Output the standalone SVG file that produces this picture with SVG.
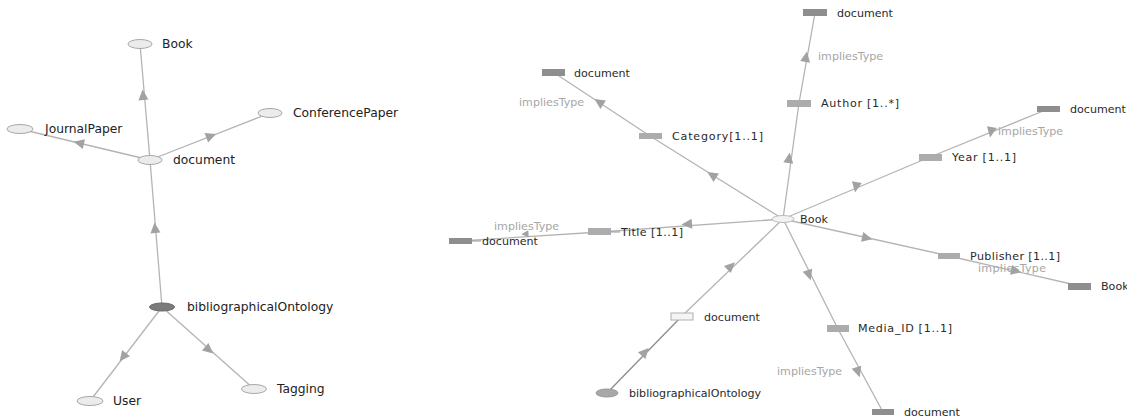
<svg xmlns="http://www.w3.org/2000/svg" xmlns:xlink="http://www.w3.org/1999/xlink" width="1127" height="419" viewBox="0 0 1127 419">
<style>
.e{stroke:#b4b4b4;stroke-width:1.3;fill:none}
.ed{stroke:#8c8c8c;stroke-width:1.3;fill:none}
.a{fill:#a2a2a2}
.ov{fill:#ececec;stroke:#a8a8a8;stroke-width:1}
.ovd{fill:#7a7a7a;stroke:#6a6a6a;stroke-width:1}
.ovm{fill:#a8a8a8;stroke:#999;stroke-width:1}
.rd{fill:#8e8e8e}
.rm{fill:#acacac}
.rw{fill:#f4f4f4;stroke:#b0b0b0;stroke-width:1}
.tl{font-family:"DejaVu Sans",sans-serif;font-size:12.3px;fill:#222}
.tr{font-family:"DejaVu Sans",sans-serif;font-size:11.1px;fill:#2a2a2a}
.ti{font-family:"DejaVu Sans",sans-serif;font-size:11.1px;fill:#a6a6a6}
</style>
<defs>
<path id="ah" d="M5.5,0 L-5,-5 L-5,5 Z"/>
</defs>
<rect width="1127" height="419" fill="#ffffff"/>
<g id="connectors">
<line class="e" x1="150" y1="160" x2="140" y2="44"/>
<line class="e" x1="150" y1="160" x2="20" y2="129"/>
<line class="e" x1="150" y1="160" x2="270" y2="113"/>
<line class="e" x1="162" y1="307" x2="150" y2="160"/>
<line class="e" x1="162" y1="307" x2="90" y2="401"/>
<line class="e" x1="162" y1="307" x2="254" y2="389"/>
<use href="#ah" class="a" transform="translate(143,95) rotate(-95)"/>
<use href="#ah" class="a" transform="translate(79,143) rotate(-167)"/>
<use href="#ah" class="a" transform="translate(211,136) rotate(-21)"/>
<use href="#ah" class="a" transform="translate(155,228) rotate(-95)"/>
<use href="#ah" class="a" transform="translate(123,357) rotate(128)"/>
<use href="#ah" class="a" transform="translate(209,350) rotate(41)"/>
<polyline class="e" points="783,219 799,103 815,13"/>
<polyline class="e" points="783,219 650,136 553,72"/>
<polyline class="e" points="783,219 930,157 1048,109"/>
<polyline class="e" points="783,219 600,232 460,241"/>
<polyline class="e" points="783,219 949,256 1080,286"/>
<polyline class="e" points="783,219 838,329 883,412"/>
<line class="ed" x1="607" y1="393" x2="682" y2="316"/>
<line class="e" x1="682" y1="316" x2="783" y2="219"/>
<use href="#ah" class="a" transform="translate(789,158) rotate(-82)"/>
<use href="#ah" class="a" transform="translate(806,57) rotate(-80)"/>
<use href="#ah" class="a" transform="translate(712,175) rotate(-148)"/>
<use href="#ah" class="a" transform="translate(599,102) rotate(-147)"/>
<use href="#ah" class="a" transform="translate(856,187) rotate(100)"/>
<use href="#ah" class="a" transform="translate(991,132) rotate(100)"/>
<use href="#ah" class="a" transform="translate(687,224) rotate(176)"/>
<use href="#ah" class="a" transform="translate(525,234) rotate(176) scale(0.7)"/>
<use href="#ah" class="a" transform="translate(867,238) rotate(13)"/>
<use href="#ah" class="a" transform="translate(1016,271) rotate(13)"/>
<use href="#ah" class="a" transform="translate(809,275) rotate(72)"/>
<use href="#ah" class="a" transform="translate(858,372) rotate(72)"/>
<use href="#ah" class="a" transform="translate(731,266) rotate(-44)"/>
<use href="#ah" class="a" transform="translate(645,352) rotate(-48)"/>
</g>
<g id="l-book"><ellipse class="ov" cx="140" cy="44" rx="12" ry="4.5"/><text class="tl" x="162" y="48">Book</text></g>
<g id="l-conferencepaper"><ellipse class="ov" cx="270" cy="113" rx="12" ry="4.5"/><text class="tl" x="293" y="117">ConferencePaper</text></g>
<g id="l-journalpaper"><ellipse class="ov" cx="20" cy="129" rx="13" ry="4.5"/><text class="tl" x="45" y="133">JournalPaper</text></g>
<g id="l-document"><ellipse class="ov" cx="150" cy="160" rx="12" ry="4.5"/><text class="tl" x="173" y="164">document</text></g>
<g id="l-bibliographicalontology"><ellipse class="ovd" cx="162" cy="307" rx="12.5" ry="4"/><text class="tl" x="187" y="311">bibliographicalOntology</text></g>
<g id="l-user"><ellipse class="ov" cx="90" cy="401" rx="13" ry="4.5"/><text class="tl" x="113" y="405">User</text></g>
<g id="l-tagging"><ellipse class="ov" cx="254" cy="389" rx="12.5" ry="4.5"/><text class="tl" x="277" y="393">Tagging</text></g>
<g id="r-book"><ellipse cx="783" cy="219" rx="11" ry="3.5" fill="#f2f2f2" stroke="#bbbbbb"/><text class="tr" x="800" y="223" textLength="28">Book</text></g>
<g id="r-author"><rect class="rm" x="787" y="100" width="24" height="7"/><text class="tr" x="821" y="107" textLength="78">Author [1..*]</text></g>
<g id="r-author-doc"><rect class="rd" x="803" y="9" width="24" height="7"/><text class="tr" x="837" y="17">document</text></g>
<text class="ti" x="818" y="60">impliesType</text>
<g id="r-category"><rect class="rm" x="639" y="133" width="23" height="6"/><text class="tr" x="672" y="140" textLength="91">Category[1..1]</text></g>
<g id="r-category-doc"><rect class="rd" x="542" y="69" width="23" height="7"/><text class="tr" x="574" y="77">document</text></g>
<text class="ti" x="519" y="106">impliesType</text>
<g id="r-year"><rect class="rm" x="919" y="154" width="23" height="7"/><text class="tr" x="952" y="161" textLength="64">Year [1..1]</text></g>
<g id="r-year-doc"><rect class="rd" x="1037" y="106" width="23" height="6"/><text class="tr" x="1070" y="113">document</text></g>
<text class="ti" x="998" y="135">impliesType</text>
<g id="r-title"><rect class="rm" x="588" y="228" width="23" height="7"/><line x1="611" y1="232" x2="620" y2="232" stroke="#999"/><text class="tr" x="621" y="236" textLength="62">Title [1..1]</text></g>
<g id="r-title-doc"><rect class="rd" x="449" y="238" width="23" height="6"/><line x1="472" y1="241" x2="481" y2="241" stroke="#999"/><text class="tr" x="482" y="245">document</text></g>
<text class="ti" x="494" y="230">impliesType</text>
<text class="ti" x="978" y="272" textLength="68">impliesType</text>
<g id="r-publisher"><rect class="rm" x="938" y="253" width="22" height="6"/><text class="tr" x="970" y="260" textLength="90">Publisher [1..1]</text></g>
<g id="r-publisher-book"><rect class="rd" x="1068" y="283" width="23" height="7"/><text class="tr" x="1101" y="290">Book</text></g>
<g id="r-media"><rect class="rm" x="827" y="325" width="22" height="7"/><text class="tr" x="858" y="332" textLength="94">Media_ID [1..1]</text></g>
<g id="r-media-doc"><rect class="rd" x="872" y="409" width="22" height="6"/><text class="tr" x="904" y="416">document</text></g>
<text class="ti" x="777" y="375">impliesType</text>
<g id="r-document"><rect class="rw" x="671" y="313" width="22" height="7"/><text class="tr" x="704" y="321">document</text></g>
<g id="r-bibliographicalontology"><ellipse class="ovm" cx="607" cy="393" rx="11" ry="4"/><text class="tr" x="629" y="397">bibliographicalOntology</text></g>
</svg>
